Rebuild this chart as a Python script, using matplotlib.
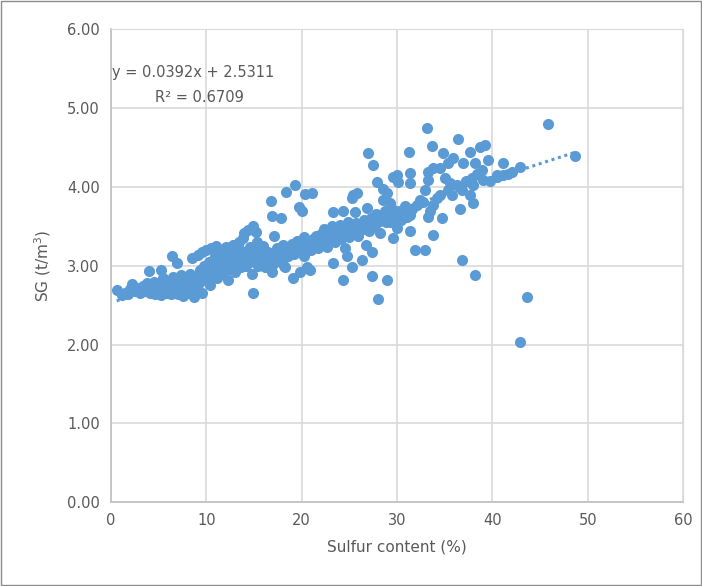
import matplotlib.pyplot as plt
from matplotlib.patches import Rectangle

# sulfur (%) vs SG (t/m3), grouped by sulfur range
seg_a = [(0.6, 2.69), (1.2, 2.63), (1.5, 2.66), (1.8, 2.64), (2.0, 2.70), (2.2, 2.77),
         (2.5, 2.68), (2.7, 2.72), (3.0, 2.66), (3.2, 2.70), (3.4, 2.74), (3.6, 2.68),
         (3.8, 2.78), (4.0, 2.93), (4.1, 2.66), (4.3, 2.72), (4.5, 2.80), (4.6, 2.64),
         (4.8, 2.69), (5.0, 2.75), (5.2, 2.94), (5.3, 2.63), (5.5, 2.84)]
seg_b = [(5.6, 2.70), (5.8, 2.66), (6.0, 2.78), (6.1, 2.72), (6.3, 2.64), (6.4, 3.13),
         (6.5, 2.86), (6.6, 2.69), (6.8, 2.76), (6.9, 3.03), (7.0, 2.64), (7.1, 2.82),
         (7.3, 2.72), (7.4, 2.88), (7.6, 2.62), (7.7, 2.78), (7.9, 2.70), (8.0, 2.84),
         (8.1, 2.66), (8.3, 2.90), (8.4, 2.74), (8.5, 3.10), (8.6, 2.80), (8.7, 2.60),
         (8.9, 2.68), (9.0, 2.86), (9.1, 3.14), (9.2, 2.78), (9.3, 2.95), (9.5, 2.65),
         (9.6, 3.17), (9.7, 2.88), (9.8, 3.00), (10.0, 2.82), (10.0, 3.20), (10.2, 2.92)]
seg_c = [(10.3, 3.05), (10.4, 2.75), (10.5, 3.22), (10.6, 2.88), (10.8, 2.98), (10.9, 3.12),
         (11.0, 3.25), (11.1, 2.84), (11.3, 2.95), (11.4, 3.05), (11.5, 3.20), (11.7, 2.90),
         (11.8, 3.00), (12.0, 3.10), (12.1, 3.24), (12.3, 2.82), (12.4, 2.96), (12.5, 3.05),
         (12.7, 3.15), (12.8, 3.26), (13.0, 2.92), (13.1, 3.02), (13.2, 3.12), (13.4, 3.30),
         (13.5, 3.20), (13.6, 2.98), (13.8, 3.08), (13.9, 3.35), (14.0, 3.42), (14.1, 3.16),
         (14.2, 3.00), (14.4, 3.45), (14.5, 3.10), (14.6, 3.24), (14.8, 2.90), (14.9, 3.50),
         (14.9, 2.66), (15.0, 3.05), (15.1, 3.15), (15.2, 3.43), (15.3, 3.30)]
seg_d = [(15.4, 3.00), (15.5, 3.10), (15.6, 3.20), (15.8, 3.05), (15.9, 3.15), (16.0, 3.25),
         (16.2, 2.98), (16.3, 3.08), (16.5, 3.18), (16.6, 3.12), (16.8, 3.82), (16.9, 3.63),
         (16.9, 2.92), (17.0, 3.02), (17.1, 3.38), (17.2, 3.14), (17.4, 3.22), (17.5, 3.06),
         (17.7, 3.16), (17.8, 3.60), (17.9, 3.10), (18.0, 3.26), (18.2, 3.00), (18.3, 2.98),
         (18.4, 3.93), (18.5, 3.18), (18.6, 3.12), (18.8, 3.22), (19.0, 3.28), (19.1, 2.84),
         (19.2, 3.15), (19.3, 4.02), (19.4, 3.25), (19.5, 3.32), (19.7, 3.74), (19.8, 2.92),
         (19.9, 3.20), (20.0, 3.30), (20.0, 3.70)]
seg_e = [(20.2, 3.36), (20.3, 3.12), (20.4, 3.91), (20.5, 3.24), (20.6, 2.98), (20.7, 3.30),
         (20.9, 2.94), (21.0, 3.20), (21.1, 3.92), (21.2, 3.34), (21.4, 3.26), (21.5, 3.38),
         (21.7, 3.22), (21.8, 3.30), (22.0, 3.40), (22.2, 3.28), (22.3, 3.46), (22.5, 3.34),
         (22.7, 3.24), (22.8, 3.42), (23.0, 3.36), (23.2, 3.50), (23.3, 3.03), (23.3, 3.68),
         (23.5, 3.30), (23.6, 3.44), (23.8, 3.38), (24.0, 3.52), (24.1, 3.34), (24.3, 3.70),
         (24.3, 2.82), (24.4, 3.46), (24.6, 3.22), (24.7, 3.40), (24.8, 3.13), (24.9, 3.56),
         (25.0, 3.36)]
seg_f = [(25.2, 3.48), (25.3, 3.86), (25.3, 2.98), (25.4, 3.90), (25.5, 3.42), (25.6, 3.68),
         (25.7, 3.54), (25.8, 3.92), (25.9, 3.38), (26.1, 3.50), (26.3, 3.07), (26.4, 3.46),
         (26.5, 3.58), (26.7, 3.26), (26.8, 3.52), (26.9, 3.73), (27.0, 4.43), (27.1, 3.44),
         (27.3, 3.60), (27.4, 3.17), (27.4, 2.87), (27.5, 4.28), (27.6, 3.50), (27.8, 3.66),
         (27.9, 4.06), (28.0, 3.56), (28.0, 2.58), (28.2, 3.41), (28.3, 3.62), (28.5, 3.98),
         (28.5, 3.83), (28.7, 3.70), (28.8, 3.56), (29.0, 3.92), (29.0, 2.82), (29.2, 3.66),
         (29.3, 3.79), (29.3, 3.55), (29.5, 3.72), (29.6, 4.12), (29.6, 3.35), (29.8, 3.62),
         (30.0, 4.15), (30.0, 3.48)]
seg_g = [(30.1, 4.06), (30.2, 3.70), (30.4, 3.58), (30.6, 3.68), (30.8, 3.76), (31.0, 3.62),
         (31.3, 4.44), (31.4, 4.18), (31.4, 4.05), (31.4, 3.64), (31.4, 3.44), (31.6, 3.72),
         (31.9, 3.20), (32.1, 3.77), (32.4, 3.84), (32.7, 3.81), (32.9, 3.96), (32.9, 3.20),
         (33.1, 4.75), (33.3, 4.19), (33.3, 4.09), (33.3, 3.62), (33.5, 3.70), (33.7, 4.52),
         (33.8, 4.24), (33.8, 3.77), (33.8, 3.39), (34.2, 3.86), (34.5, 4.24), (34.5, 3.90),
         (34.7, 3.60), (34.8, 4.43), (35.0, 4.11), (35.3, 4.30), (35.3, 3.96), (35.6, 4.05),
         (35.8, 3.90), (35.9, 4.37)]
seg_h = [(36.3, 4.02), (36.4, 4.61), (36.6, 3.72), (36.8, 3.96), (36.8, 3.07), (36.9, 4.31),
         (37.2, 4.08), (37.7, 4.44), (37.7, 3.90), (37.9, 4.11), (38.0, 4.02), (38.0, 3.79),
         (38.2, 4.31), (38.2, 2.88), (38.4, 4.17), (38.7, 4.51), (38.9, 4.22), (39.0, 4.09),
         (39.2, 4.53), (39.5, 4.34), (39.8, 4.08), (40.5, 4.15), (40.5, 4.12), (41.1, 4.31),
         (41.1, 4.15), (41.6, 4.16), (42.1, 4.19), (42.9, 4.25), (42.9, 2.03), (43.6, 2.60),
         (45.8, 4.80), (48.7, 4.39)]

slope = 0.0392
intercept = 2.5311
trend_x = [0.6, 48.7]
eq_text = "y = 0.0392x + 2.5311"
r2_text = "R² = 0.6709"

points = seg_a + seg_b + seg_c + seg_d + seg_e + seg_f + seg_g + seg_h
sulfur = [p[0] for p in points]
sg = [p[1] for p in points]

blue = '#5B9BD5'
grey = '#595959'

fig = plt.figure(figsize=(7.02, 5.86), dpi=100)
ax = fig.add_axes([0.158, 0.143, 0.815, 0.807])

ax.scatter(sulfur, sg, s=64, color=blue, linewidths=0, zorder=3)
ax.plot(trend_x, [slope * v + intercept for v in trend_x], color=blue,
        linestyle=(0, (1, 1.2)), linewidth=2.2, zorder=2)

ax.set_xlim(0, 60)
ax.set_ylim(0, 6)
ax.set_xticks(range(0, 61, 10))
ax.set_yticks([0, 1, 2, 3, 4, 5, 6])
ax.set_yticklabels(['%.2f' % v for v in range(7)])
ax.grid(True, color='#D9D9D9', linewidth=1.2, zorder=0)
ax.set_axisbelow(True)
for side in ['top', 'right']:
    ax.spines[side].set_color('#D9D9D9')
for side in ['left', 'bottom']:
    ax.spines[side].set_color('#BFBFBF')
    ax.spines[side].set_linewidth(1.2)
ax.tick_params(length=0, labelsize=10.5, labelcolor=grey, pad=8)

ax.set_xlabel("Sulfur content (%)", fontsize=11, color=grey, labelpad=8)
ax.set_ylabel("SG (t/m$^3$)", fontsize=11, color=grey, labelpad=10)

ax.text(0.15, 5.45, eq_text, fontsize=10.5, color=grey, va='center', ha='left')
ax.text(9.3, 5.14, r2_text, fontsize=10.5, color=grey, va='center', ha='center')

fig.patches.append(Rectangle((0.001, 0.002), 0.997, 0.996, transform=fig.transFigure,
                             fill=False, edgecolor='#8c8c8c', linewidth=1))

fig.savefig('out.png', dpi=100)
